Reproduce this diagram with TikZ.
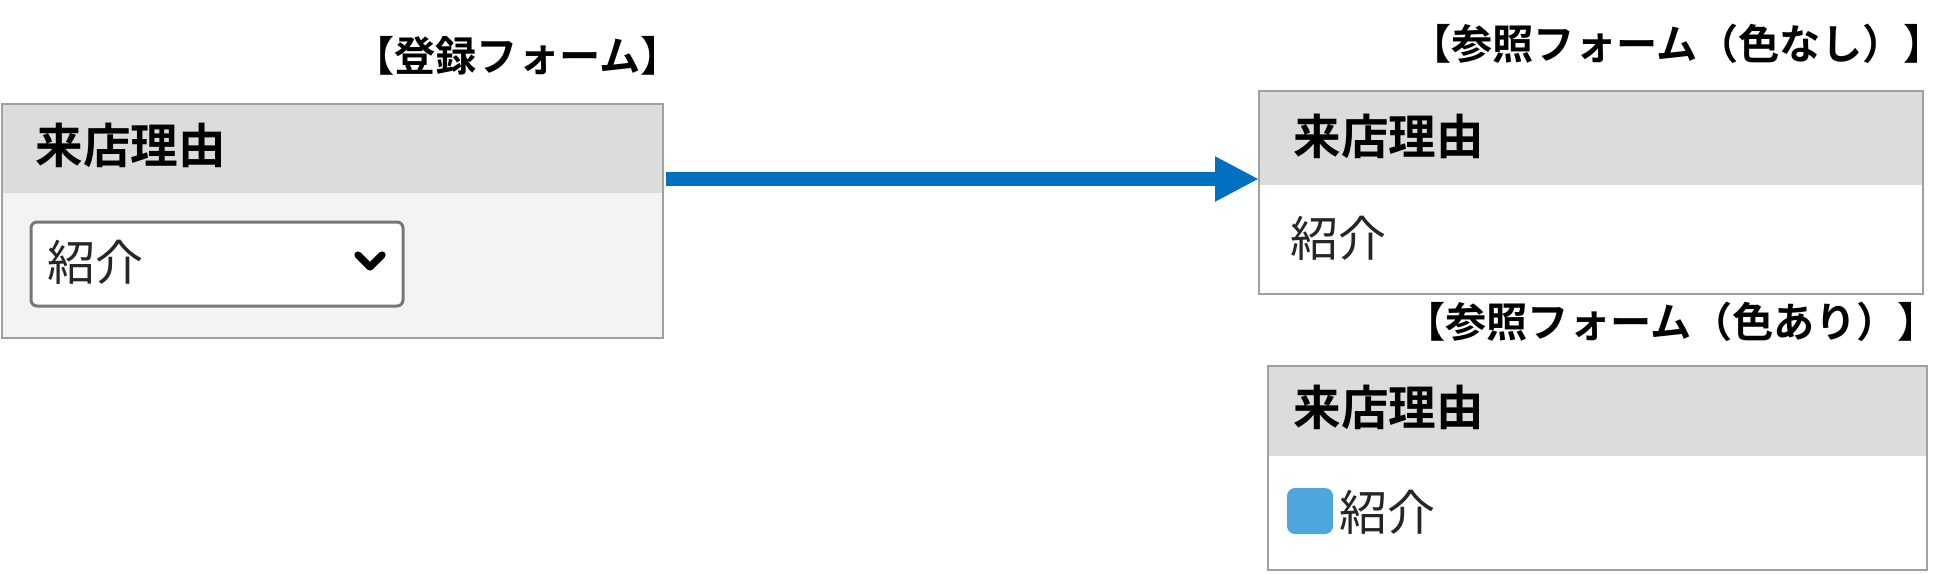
\documentclass[tikz,border=0pt]{standalone}
\usepackage{fontspec}
\newfontfamily\jp{Noto Sans CJK JP}
\newfontfamily\jpb{Noto Sans CJK JP Bold}
\usetikzlibrary{arrows.meta}
\definecolor{hdrgray}{HTML}{DCDCDC}
\definecolor{bodygray}{HTML}{F3F3F3}
\definecolor{framegray}{HTML}{A0A0A0}
\definecolor{selgray}{HTML}{767676}
\definecolor{arrowblue}{HTML}{0070C0}
\definecolor{swatchblue}{HTML}{4EA6DC}
\tikzset{
  title/.style={inner sep=0pt, anchor=east, font=\jpb\fontsize{20.6}{21}\selectfont},
  hdr/.style={inner sep=0pt, anchor=west, font=\jpb\fontsize{23.8}{24}\selectfont},
  val/.style={inner sep=0pt, anchor=west, text=black!85, font=\jp\fontsize{24}{24}\selectfont},
  frame/.style={draw=framegray, line width=1.2pt},
}
\begin{document}
\begin{tikzpicture}[x=0.5pt,y=-0.5pt]
\useasboundingbox (0,0) rectangle (1958,573);
% left form
\fill[bodygray] (2,104) rectangle (663,338);
\fill[hdrgray] (2,104) rectangle (663,193);
\draw[frame] (2,104) rectangle (663,338);
\node[title] (t1) at (682,56) {【登録フォーム】};
\node[hdr] (h1) at (35,145) {来店理由};
\draw[draw=selgray, fill=white, line width=1.5pt, rounded corners=3pt] (31,222) rectangle (403,306);
\node[val] (v1) at (47,262) {紹介};
\draw[line width=3.6pt, line cap=round, line join=round] (358,255) -- (370,267) -- (382,255);
\coordinate (lb) at (663,179);
% right top form
\fill[white] (1259,91) rectangle (1923,294);
\fill[hdrgray] (1259,91) rectangle (1923,185);
\draw[frame] (1259,91) rectangle (1923,294);
\coordinate (rb) at (1259,179);
\node[title] (t2) at (1945,44) {【参照フォーム（色なし）】};
\node[hdr] (h2) at (1293,136) {来店理由};
\node[val] (v2) at (1290,238) {紹介};
% right bottom form
\fill[white] (1268,366) rectangle (1927,570);
\fill[hdrgray] (1268,366) rectangle (1927,456);
\draw[frame] (1268,366) rectangle (1927,570);
\node[title] (t3) at (1939,322) {【参照フォーム（色あり）】};
\node[hdr] (h3) at (1293,407) {来店理由};
\fill[swatchblue, rounded corners=4pt] (1287,488) rectangle (1333,534);
\node[val] (v3) at (1339,512) {紹介};
% arrow
\draw[arrowblue, line width=7pt, -{Triangle[length=22pt,width=21pt]}, shorten <=1.5pt] (lb) -- (rb);
\end{tikzpicture}
\end{document}
